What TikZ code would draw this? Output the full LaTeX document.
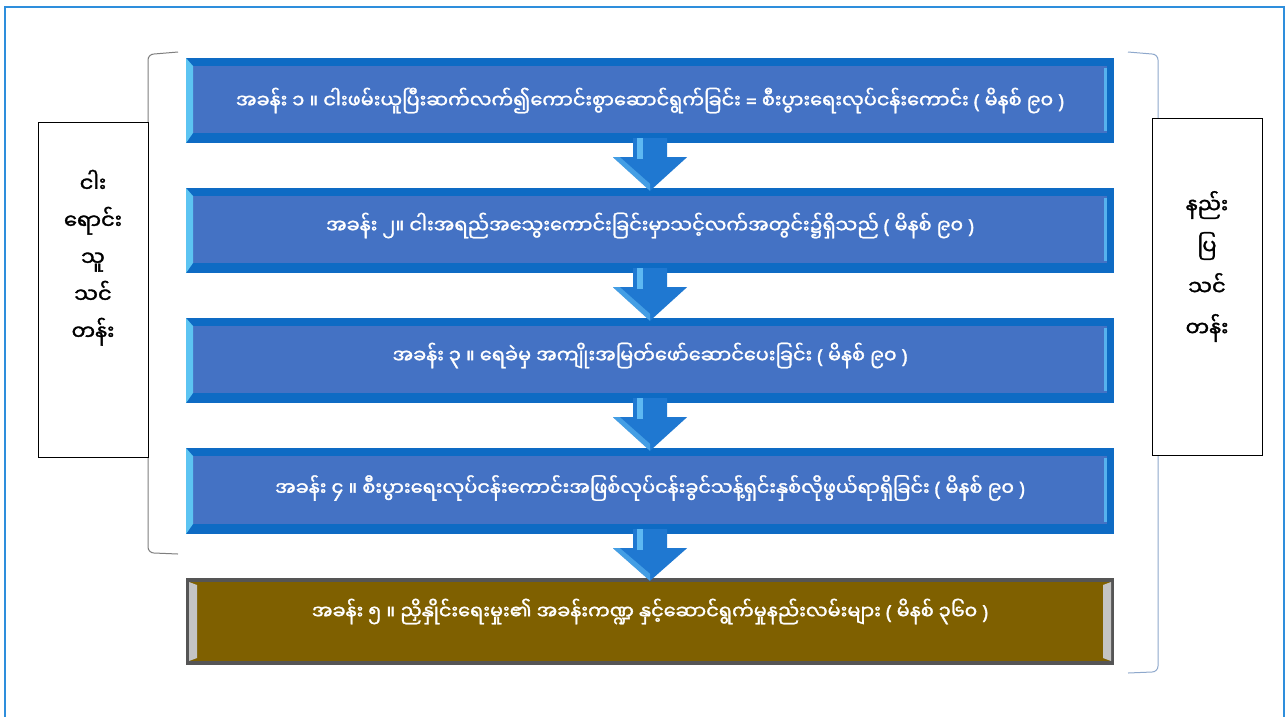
\documentclass[tikz,border=0pt]{standalone}
\usepackage{fontspec}
\usetikzlibrary{calc}
\newfontfamily\mm[Script=Myanmar]{Noto Sans Myanmar UI}
\newfontfamily\mmb[Script=Myanmar,FakeBold=1.6]{Noto Sans Myanmar UI}
\newfontfamily\latf[FakeBold=1.6]{Noto Sans}
\newcommand{\lpar}{{\latf(}}
\newcommand{\rpar}{{\latf)}}
\newcommand{\eqsign}{{\latf=}}
\newcommand{\lift}[2]{\raisebox{#1}[\height][\depth]{#2}}
\definecolor{frameblue}{HTML}{2E8EDC}
\definecolor{bbord}{HTML}{0E6BC4}
\definecolor{bfill}{HTML}{4472C4}
\definecolor{bcyan}{HTML}{5CC4F2}
\definecolor{blight}{HTML}{57B2EE}
\definecolor{gbord}{HTML}{555555}
\definecolor{gfill}{HTML}{7F6000}
\definecolor{glight}{HTML}{C4C4C4}
\definecolor{arrowblue}{HTML}{1F78D1}
\definecolor{arrowlight}{HTML}{5DB8F2}
\definecolor{brgray}{HTML}{7F7F7F}
\definecolor{brblue}{HTML}{8EA8CC}
\tikzset{
  stagebox/.style={minimum width=928pt, minimum height=85pt, inner sep=0pt,
    fill=bbord, text=white, font=\mmb\fontsize{19.3}{22}\selectfont,
    path picture={
      \fill[bfill] ([xshift=7pt,yshift=-8pt]path picture bounding box.north west)
        rectangle ([xshift=-7pt,yshift=10pt]path picture bounding box.south east);
      \fill[bcyan] (path picture bounding box.north west) -- ++(7pt,-8pt)
        -- ([xshift=7pt,yshift=10pt]path picture bounding box.south west)
        -- (path picture bounding box.south west) -- cycle;
      \fill[blight] ([xshift=-10pt,yshift=-10pt]path picture bounding box.north east)
        rectangle ([xshift=-7pt,yshift=12pt]path picture bounding box.south east);
    }},
  finalbox/.style={minimum width=928pt, minimum height=87pt, inner sep=0pt,
    fill=gbord, text=white, font=\mmb\fontsize{19.3}{22}\selectfont,
    path picture={
      \fill[gfill] ([xshift=3pt,yshift=-4pt]path picture bounding box.north west)
        rectangle ([xshift=-3pt,yshift=4pt]path picture bounding box.south east);
      \fill[glight] ([xshift=3pt,yshift=-4pt]path picture bounding box.north west)
        -- ++(8pt,-3pt) -- ([xshift=11pt,yshift=7pt]path picture bounding box.south west)
        -- ([xshift=3pt,yshift=4pt]path picture bounding box.south west) -- cycle;
      \fill[glight] ([xshift=-3pt,yshift=-4pt]path picture bounding box.north east)
        -- ++(-8pt,-3pt) -- ([xshift=-11pt,yshift=7pt]path picture bounding box.south east)
        -- ([xshift=-3pt,yshift=4pt]path picture bounding box.south east) -- cycle;
    }},
  sidebox/.style={draw=black, line width=0.8pt, fill=white, minimum width=110pt, inner sep=0pt,
    text=black, font=\mmb\fontsize{21}{37}\selectfont},
  downarrow/.style={fill=arrowblue},
  arrowshine/.style={fill=arrowlight}
}
\begin{document}
\begin{tikzpicture}[x=1pt,y=-1pt]
\useasboundingbox (0,0) rectangle (1285,716);
\fill[white] (0,0) rectangle (1285,716);
\draw[frameblue, line width=1.6pt] (5,7) rectangle (1284,740);

% brackets
\draw[brgray, line width=1pt] (178,52) -- (154,54) to[out=180,in=90] (148,60)
  -- (148,547) to[out=-90,in=180] (154,553) -- (178,554);
\draw[brblue, line width=1pt] (1128,52) -- (1152,54) to[out=0,in=90] (1158,60)
  -- (1158,666) to[out=-90,in=0] (1152,672) -- (1128,673);

% side boxes
\node[sidebox, minimum height=335pt] (L) at (93,289.5)
  {\lift{31pt}{\begin{tabular}{@{}c@{}}ငါး\\ရောင်း\\သူ\\သင်\\တန်း\end{tabular}}};
\node[sidebox, minimum height=337pt, font=\mmb\fontsize{21}{41}\selectfont] (R) at (1207,286.5)
  {\lift{20pt}{\begin{tabular}{@{}c@{}}နည်း\\ပြ\\သင်\\တန်း\end{tabular}}};

% stage boxes
\node[stagebox] (b1) at (650,100.5) {အခန်း ၁ ။ ငါးဖမ်းယူပြီးဆက်လက်၍ကောင်းစွာဆောင်ရွက်ခြင်း \eqsign{} စီးပွားရေးလုပ်ငန်းကောင်း \lpar{} မိနစ် ၉၀ \rpar};
\node[stagebox] (b2) at (650,230.5) {\lift{5pt}{အခန်း ၂။ ငါးအရည်အသွေးကောင်းခြင်းမှာသင့်လက်အတွင်း၌ရှိသည် \lpar{} မိနစ် ၉၀ \rpar}};
\node[stagebox] (b3) at (650,360.5) {\lift{5pt}{အခန်း ၃ ။ ရေခဲမှ အကျိုးအမြတ်ဖော်ဆောင်ပေးခြင်း \lpar{} မိနစ် ၉၀ \rpar}};
\node[stagebox, minimum height=86pt] (b4) at (650,491) {\lift{3pt}{အခန်း ၄ ။ စီးပွားရေးလုပ်ငန်းကောင်းအဖြစ်လုပ်ငန်းခွင်သန့်ရှင်းနှစ်လိုဖွယ်ရာရှိခြင်း \lpar{} မိနစ် ၉၀ \rpar}};
\node[finalbox] (b5) at (650,621.5) {\lift{10pt}{အခန်း ၅ ။ ညှိနှိုင်းရေးမှုး၏ အခန်းကဏ္ဍ နှင့်ဆောင်ရွက်မှုနည်းလမ်းများ \lpar{} မိနစ် ၃၆၀ \rpar}};

% block arrows
\foreach \a/\b in {b1/b2, b2/b3, b3/b4, b4/b5}{
  \fill[downarrow] ($(\a.south)+(-17,-5)$) -- ($(\a.south)+(-17,14)$) -- ($(\a.south)+(-37,14)$)
    -- ($(\b.north)+(0,3)$) -- ($(\a.south)+(37,14)$) -- ($(\a.south)+(17,14)$)
    -- ($(\a.south)+(17,-5)$) -- cycle;
  \fill[arrowshine] ($(\a.south)+(-13,-5)$) -- ($(\a.south)+(-13,16)$) -- ($(\a.south)+(-7,16)$)
    -- ($(\a.south)+(-7,-5)$) -- cycle;
  \fill[arrowshine, opacity=0.6] ($(\a.south)+(-37,14)$) -- ($(\b.north)+(0,3)$)
    -- ($(\b.north)+(0,-4)$) -- ($(\a.south)+(-30,14)$) -- cycle;
}
\end{tikzpicture}
\end{document}
